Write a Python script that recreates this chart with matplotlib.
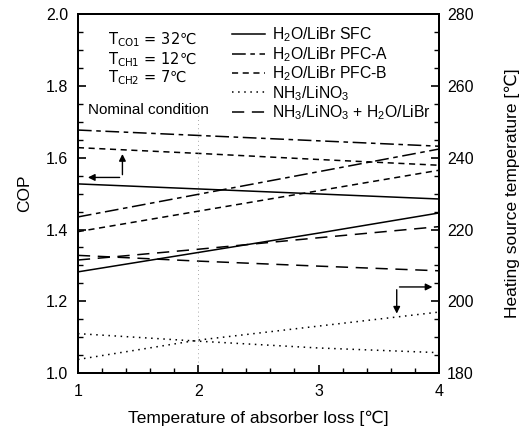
"""
COP and heating source temperature vs. absorber loss
"""
import matplotlib
matplotlib.use('Agg')
import matplotlib.pyplot as plt

plt.rcParams['font.family'] = ['Liberation Sans', 'DejaVu Sans']
plt.rcParams['mathtext.default'] = 'regular'

# Data
absorber_loss = [1, 2, 3, 4]

sfc_cop = [1.527, 1.513, 1.499, 1.485]
sfc_temp = [208.2, 213.6, 219.0, 224.6]

pfca_cop = [1.677, 1.662, 1.647, 1.632]
pfca_temp = [223.5, 229.8, 236.1, 242.4]

pfcb_cop = [1.628, 1.612, 1.595, 1.579]
pfcb_temp = [219.4, 225.1, 230.8, 236.5]

nh3_cop = [1.110, 1.089, 1.070, 1.057]
nh3_temp = [183.8, 189.2, 193.1, 197.0]

combo_cop = [1.328, 1.312, 1.298, 1.285]
combo_temp = [211.5, 214.5, 217.7, 220.8]

labels = [r'H$_2$O/LiBr SFC', r'H$_2$O/LiBr PFC-A', r'H$_2$O/LiBr PFC-B',
          r'NH$_3$/LiNO$_3$', r'NH$_3$/LiNO$_3$ + H$_2$O/LiBr']
styles = ['-', (0, (9, 3, 3, 3)), (0, (4, 3)), (0, (1, 3)), (0, (8, 5))]
cops = [sfc_cop, pfca_cop, pfcb_cop, nh3_cop, combo_cop]
temps = [sfc_temp, pfca_temp, pfcb_temp, nh3_temp, combo_temp]

notes = [r'T$_{CO1}$ = 32℃', r'T$_{CH1}$ = 12℃', r'T$_{CH2}$ = 7℃']

fig = plt.figure(figsize=(5.3, 4.4), dpi=100)
ax = fig.add_axes([0.147, 0.152, 0.681, 0.816])
ax2 = ax.twinx()

handles = []
for lab, ls, c, t in zip(labels, styles, cops, temps):
    h, = ax.plot(absorber_loss, c, color='k', lw=1.1, ls=ls, label=lab)
    ax2.plot(absorber_loss, t, color='k', lw=1.1, ls=ls)
    handles.append(h)

# faint dotted vertical trace at x = 2
ax.axvline(2, ymin=0.03, ymax=0.74, color='0.55', lw=0.6, ls=(0, (1, 4)))

ax.set_xlim(1, 4)
ax.set_ylim(1.0, 2.0)
ax2.set_ylim(180, 280)
ax.set_xticks([1, 2, 3, 4])
ax.set_xticks([1 + 0.2 * i for i in range(16)], minor=True)
ax.set_yticks([1.0, 1.2, 1.4, 1.6, 1.8, 2.0])
ax.set_yticklabels(['1.0', '1.2', '1.4', '1.6', '1.8', '2.0'])
ax.set_yticks([1.0 + 0.05 * i for i in range(21)], minor=True)
ax2.set_yticks([180, 200, 220, 240, 260, 280])
ax2.set_yticks([180 + 5 * i for i in range(21)], minor=True)

for a in (ax, ax2):
    a.tick_params(which='major', direction='in', length=6, width=1.2, labelsize=11.5)
    a.tick_params(which='minor', direction='in', length=3.5, width=1.0)
    for s in a.spines.values():
        s.set_linewidth(1.4)
ax.tick_params(which='both', top=False, right=False)
ax.tick_params(axis='x', pad=8)
ax.tick_params(axis='y', pad=7)
ax2.tick_params(axis='y', pad=6)

ax.set_xlabel('Temperature of absorber loss [℃]', fontsize=12.5, labelpad=8)
ax.set_ylabel('COP', fontsize=12.5, labelpad=10)
ax2.set_ylabel('Heating source temperature [℃]', fontsize=12.5, labelpad=22)

# condition notes
for note, yv in zip(notes, [1.928, 1.874, 1.824]):
    ax.text(1.25, yv, note, fontsize=10.5, va='center', family='DejaVu Sans')
ax.text(1.08, 1.733, 'Nominal condition', fontsize=11, va='center')

ax2.legend(handles, labels, loc='upper right', bbox_to_anchor=(1.0, 0.99),
           frameon=False, fontsize=11.3, handlelength=2.1, labelspacing=0.05,
           handletextpad=0.45, borderaxespad=0.1)

# axis pointer arrows
arw = dict(arrowstyle='-|>', color='k', lw=1.0, mutation_scale=10)
ax.annotate('', xy=(1.06, 1.545), xytext=(1.37, 1.545), arrowprops=arw)
ax.annotate('', xy=(1.37, 1.618), xytext=(1.37, 1.545), arrowprops=arw)
ax.annotate('', xy=(3.65, 1.158), xytext=(3.65, 1.24), arrowprops=arw)
ax.annotate('', xy=(3.97, 1.24), xytext=(3.65, 1.24), arrowprops=arw)

plt.savefig('out.png', dpi=100)
